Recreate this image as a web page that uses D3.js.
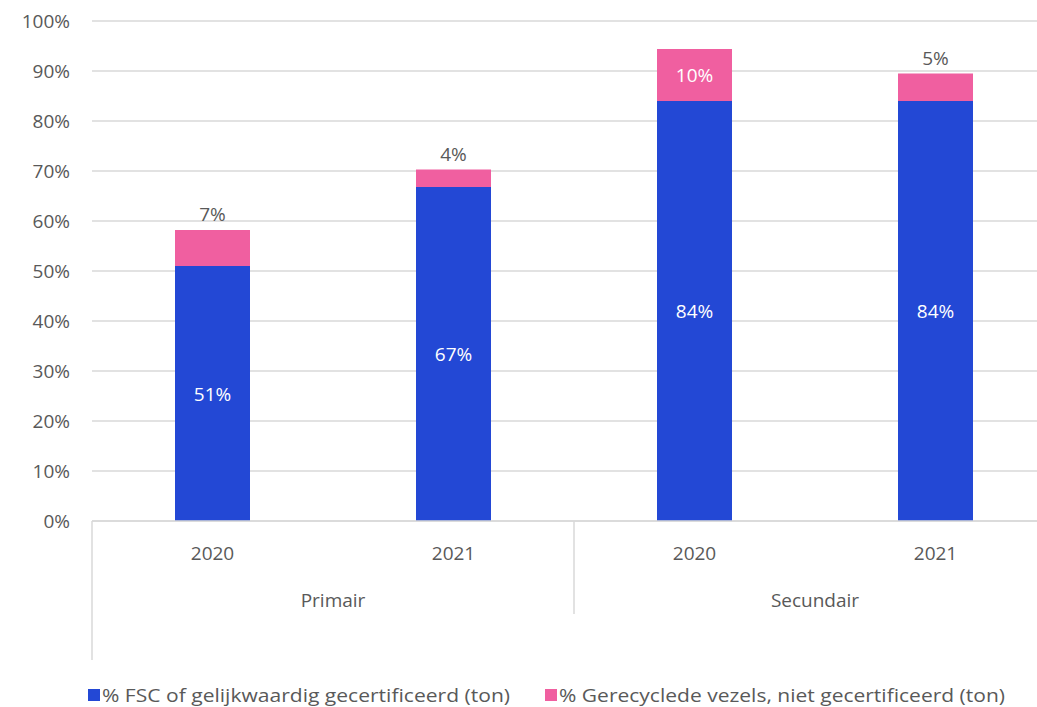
<!DOCTYPE html>
<html>
<head>
<meta charset="utf-8">
<script src="https://cdn.jsdelivr.net/npm/d3@7"></script>
<style>
  body { margin: 0; background: #fff; overflow: hidden; }
  text { font-family: "Open Sans", sans-serif; fill: #595959; }
</style>
</head>
<body>
<svg id="chart" width="1037" height="707"></svg>
<script>
// data
var groups = ["Primair", "Primair", "Secundair", "Secundair"];
var years = ["2020", "2021", "2020", "2021"];
var fsc = [51, 66.8, 84, 84];
var recycled = [7.2, 3.5, 10.4, 5.5];
var fscLabels = ["51%", "67%", "84%", "84%"];
var recLabels = ["7%", "4%", "10%", "5%"];
var yTicks = [0, 10, 20, 30, 40, 50, 60, 70, 80, 90, 100];
var seriesNames = ["% FSC of gelijkwaardig gecertificeerd (ton)", "% Gerecyclede vezels, niet gecertificeerd (ton)"];
var colors = ["#2348d5", "#f05fa0"];

var svg = d3.select("#chart");
var plotL = 92, plotR = 1056, plotT = 21, plotB = 521;
var fs = 19;

var x = d3.scaleBand().domain(d3.range(years.length)).range([plotL, plotR]);
var y = d3.scaleLinear().domain([0, 100]).range([plotB, plotT]);
var barW = 75;

// gridlines
svg.selectAll(".grid").data(yTicks).enter().append("line")
  .attr("x1", plotL).attr("x2", 1037)
  .attr("y1", function(d){ return y(d); })
  .attr("y2", function(d){ return y(d); })
  .attr("stroke", "#d9d9d9").attr("stroke-width", 1.5);

// y labels
svg.selectAll(".ylab").data(yTicks).enter().append("text")
  .attr("x", 70).attr("y", function(d){ return y(d) + 7; })
  .attr("text-anchor", "end").attr("font-size", fs)
  .text(function(d){ return d + "%"; });

// bars
var bx = function(i){ return x(i) + (x.bandwidth() - barW) / 2; };
svg.selectAll(".fsc").data(fsc).enter().append("rect")
  .attr("x", function(d, i){ return bx(i); })
  .attr("width", barW)
  .attr("y", function(d){ return y(d); })
  .attr("height", function(d){ return y(0) - y(d); })
  .attr("fill", colors[0]);

svg.selectAll(".rec").data(recycled).enter().append("rect")
  .attr("x", function(d, i){ return bx(i); })
  .attr("width", barW)
  .attr("y", function(d, i){ return y(fsc[i] + d); })
  .attr("height", function(d, i){ return y(fsc[i]) - y(fsc[i] + d); })
  .attr("fill", colors[1]);

// value labels
svg.selectAll(".fl").data(fsc).enter().append("text")
  .attr("x", function(d, i){ return x(i) + x.bandwidth() / 2; })
  .attr("y", function(d){ return y(d / 2) + 7; })
  .attr("text-anchor", "middle").attr("font-size", fs)
  .style("fill", "#fff")
  .text(function(d, i){ return fscLabels[i]; });

svg.selectAll(".rl").data(recycled).enter().append("text")
  .attr("x", function(d, i){ return x(i) + x.bandwidth() / 2; })
  .attr("y", function(d, i){
    return d > 8 ? y(fsc[i] + d / 2) + 7 : y(fsc[i] + d) - 9;
  })
  .attr("text-anchor", "middle").attr("font-size", fs)
  .style("fill", function(d){ return d > 8 ? "#fff" : "#595959"; })
  .text(function(d, i){ return recLabels[i]; });

// category axis
svg.append("line").attr("x1", plotL).attr("x2", 1037)
  .attr("y1", plotB).attr("y2", plotB)
  .attr("stroke", "#d9d9d9").attr("stroke-width", 1.5);
svg.append("line").attr("x1", plotL).attr("x2", plotL)
  .attr("y1", plotB).attr("y2", 660)
  .attr("stroke", "#d9d9d9").attr("stroke-width", 1.5);
svg.append("line").attr("x1", x(2)).attr("x2", x(2))
  .attr("y1", plotB).attr("y2", 614)
  .attr("stroke", "#d9d9d9").attr("stroke-width", 1.5);

svg.selectAll(".yr").data(years).enter().append("text")
  .attr("x", function(d, i){ return x(i) + x.bandwidth() / 2; })
  .attr("y", 560).attr("text-anchor", "middle").attr("font-size", fs)
  .text(function(d){ return d; });

var groupNames = Array.from(new Set(groups));
svg.selectAll(".grp").data(groupNames).enter().append("text")
  .attr("x", function(g){
    var idx = groups.map(function(v, i){ return v === g ? i : -1; }).filter(function(i){ return i >= 0; });
    return (x(idx[0]) + x(idx[idx.length - 1]) + x.bandwidth()) / 2;
  })
  .attr("y", 607).attr("text-anchor", "middle").attr("font-size", fs)
  .text(function(d){ return d; });

// legend
var legX = [88, 545], legW = [408, 446];
var leg = svg.selectAll(".leg").data(seriesNames).enter().append("g")
  .attr("transform", function(d, i){ return "translate(" + legX[i] + ",689)"; });
leg.append("rect").attr("width", 12).attr("height", 12)
  .attr("fill", function(d, i){ return colors[i]; });
leg.append("text").attr("x", 14).attr("y", 13).attr("font-size", 19)
  .attr("textLength", function(d, i){ return legW[i]; })
  .attr("lengthAdjust", "spacingAndGlyphs")
  .text(function(d){ return d; });
</script>
</body>
</html>
